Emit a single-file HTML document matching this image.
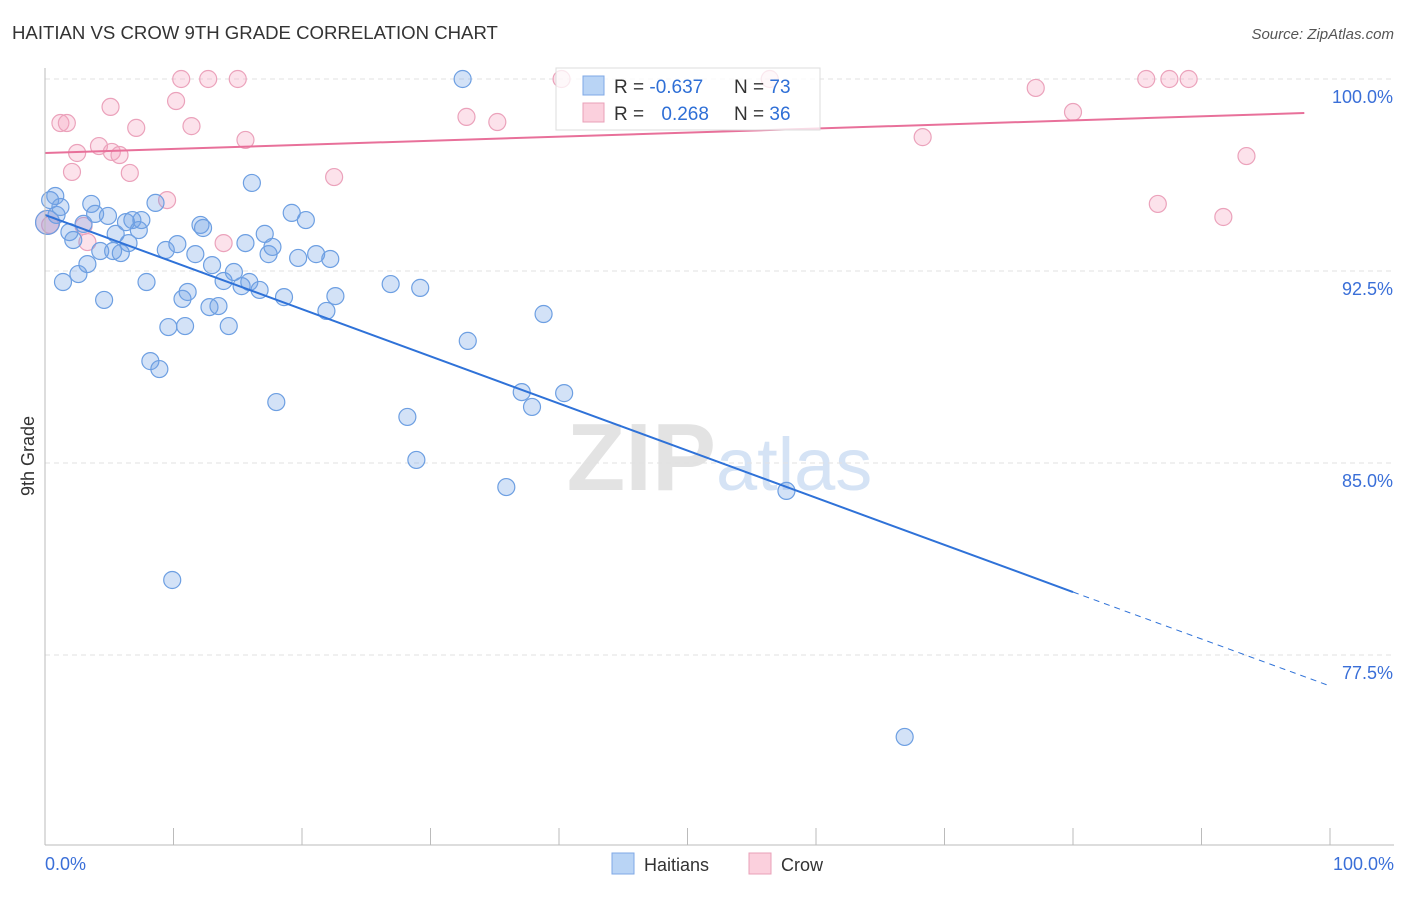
<!DOCTYPE html>
<html><head><meta charset="utf-8"><style>
body{margin:0;background:#fff;font-family:"Liberation Sans",sans-serif}
svg text{font-family:"Liberation Sans",sans-serif}
</style></head><body>
<svg id="c" width="1406" height="892">
<text x="12" y="39" font-size="18.6" fill="#333">HAITIAN VS CROW 9TH GRADE CORRELATION CHART</text>
<text x="1394" y="39" font-size="15" fill="#555" font-style="italic" text-anchor="end">Source: ZipAtlas.com</text>
<text x="716" y="490" font-size="96" fill="#e3e3e3" text-anchor="end" font-family="Liberation Serif" font-weight="bold">ZIP</text>
<text x="716" y="490" font-size="74" fill="#d5e3f5">atlas</text>
<text x="34" y="456" font-size="18" fill="#333" transform="rotate(-90 34 456)" text-anchor="middle">9th Grade</text>
<g id="grid"></g><g id="pts"></g><g id="lines"></g>
<line x1="45" y1="68" x2="45" y2="845" stroke="#bbb"/>
<line x1="45" y1="845" x2="1394" y2="845" stroke="#bbb"/>
<text x="45" y="870" font-size="18" fill="#3a6fd8">0.0%</text>
<text x="1394" y="870" font-size="18" fill="#3a6fd8" text-anchor="end">100.0%</text>
<g>
<rect x="556" y="68" width="264" height="62" fill="rgba(255,255,255,0.75)" stroke="#ddd"/>
<rect x="583" y="76" width="21" height="19" fill="#b9d4f5" stroke="#7fa8e6"/>
<rect x="583" y="103" width="21" height="19" fill="#fbd0dd" stroke="#eaa0b8"/>
<text x="614" y="93" font-size="19" fill="#333">R = <tspan fill="#2f6fd6">-0.637</tspan></text>
<text x="734" y="93" font-size="19" fill="#333">N = <tspan fill="#2f6fd6">73</tspan></text>
<text x="614" y="120" font-size="19" fill="#333">R = <tspan fill="#2f6fd6" dx="12">0.268</tspan></text>
<text x="734" y="120" font-size="19" fill="#333">N = <tspan fill="#2f6fd6">36</tspan></text>
</g>
<g><rect x="612" y="853" width="22" height="21" fill="#b9d4f5" stroke="#7fa8e6"/><text x="644" y="871" font-size="18" fill="#333">Haitians</text></g>
<g><rect x="749" y="853" width="22" height="21" fill="#fbd0dd" stroke="#eaa0b8"/><text x="781" y="871" font-size="18" fill="#333">Crow</text></g>
</svg>
<script>
const yTicks=[100,92.5,85,77.5];
const yTickLabels=["100.0%","92.5%","85.0%","77.5%"];
const xTicks=[0,10,20,30,40,50,60,70,80,90,100];
const haitianX=[0.4,0.8,0.9,1.2,1.9,2.2,1.4,2.6,3.0,3.3,3.6,3.9,4.3,4.6,4.9,5.3,5.5,5.9,6.3,6.5,6.8,7.3,7.5,7.9,8.2,8.9,8.6,9.4,9.6,9.9,10.3,10.7,10.9,11.1,11.7,12.1,12.3,12.8,13.0,13.5,13.9,14.3,14.7,15.3,15.6,15.9,16.1,16.7,17.1,17.4,17.7,18.0,18.6,19.2,19.7,20.3,21.1,21.9,22.2,22.6,26.9,28.2,28.9,29.2,32.5,32.9,35.9,37.1,37.9,38.8,40.4,57.7,66.9,0.2];
const haitianY=[95.27,95.43,94.69,95.0,94.02,93.71,92.07,92.38,94.34,92.77,95.12,94.73,93.28,91.37,94.65,93.28,93.95,93.2,94.41,93.59,94.49,94.1,94.49,92.07,88.98,88.67,95.16,93.32,90.31,80.43,93.55,91.41,90.35,91.68,93.16,94.3,94.18,91.09,92.73,91.13,92.11,90.35,92.46,91.91,93.59,92.07,95.94,91.76,93.95,93.16,93.44,87.38,91.48,94.77,93.01,94.49,93.16,90.94,92.97,91.52,91.99,86.8,85.12,91.84,100,89.77,84.06,87.77,87.19,90.82,87.73,83.91,74.3,94.4];
const crowX=[0.4,1.2,1.7,2.1,2.5,3.3,3.0,4.2,5.1,5.2,5.8,6.6,7.1,9.5,10.2,10.6,11.4,12.7,13.9,15.0,15.6,22.5,32.8,35.2,40.2,56.4,68.3,77.1,80.0,85.7,86.6,87.5,89.0,91.7,93.5,0.2];
const crowY=[94.3,98.28,98.28,96.37,97.11,93.63,94.26,97.38,98.91,97.15,97.03,96.33,98.09,95.27,99.14,100,98.16,100,93.59,100,97.62,96.17,98.52,98.32,100,100,97.73,99.65,98.71,100,95.12,100,100,94.61,96.99,94.4];
const haitianTrend=[94.69,79.96,76.29];
const crowTrend=[97.11,98.67];
const sx=v=>45+v*12.85, sy=v=>79+(100-v)*25.6;
const NS="http://www.w3.org/2000/svg";
function mk(tag,attrs,parent){const e=document.createElementNS(NS,tag);for(const k in attrs)e.setAttribute(k,attrs[k]);parent.appendChild(e);return e;}
const grid=document.getElementById('grid');
yTicks.forEach((t,i)=>{
 const l=mk('line',{x1:45,x2:1394,y1:sy(t),y2:sy(t),stroke:'#e2e2e2','stroke-dasharray':'5,4'},grid);
 
 
 const tx=mk('text',{x:1393,y:sy(t)+24,'font-size':18,fill:'#3a6fd8','text-anchor':'end'},grid);
 tx.textContent=yTickLabels[i];
 
 
});
xTicks.forEach(t=>{
 const l=mk('line',{x1:sx(t),x2:sx(t),y1:828,y2:845,stroke:'#bbb'},grid);
 
 
});
const pts=document.getElementById('pts');
crowX.forEach((x,i)=>{
 const c=mk('circle',{cx:sx(x),cy:sy(crowY[i]),r:i==crowX.length-1?12:8.5,fill:'rgba(244,160,190,0.3)',stroke:'#eba2bb','stroke-width':1.2},pts);
 
 
});
haitianX.forEach((x,i)=>{
 const c=mk('circle',{cx:sx(x),cy:sy(haitianY[i]),r:i==haitianX.length-1?12:8.5,fill:'rgba(110,160,230,0.3)',stroke:'#6d9fe2','stroke-width':1.2},pts);
 
 
});
const lines=document.getElementById('lines');
let a=mk('line',{x1:sx(0),y1:sy(haitianTrend[0]),x2:sx(80),y2:sy(haitianTrend[1]),stroke:'#2f72d8','stroke-width':2},lines);


let b=mk('line',{x1:sx(80),y1:sy(haitianTrend[1]),x2:sx(100),y2:sy(haitianTrend[2]),stroke:'#2f72d8','stroke-width':1,'stroke-dasharray':'6,5'},lines);


let p=mk('line',{x1:sx(0),y1:sy(crowTrend[0]),x2:sx(98),y2:sy(crowTrend[1]),stroke:'#e8709a','stroke-width':2},lines);


</script>
</body></html>
